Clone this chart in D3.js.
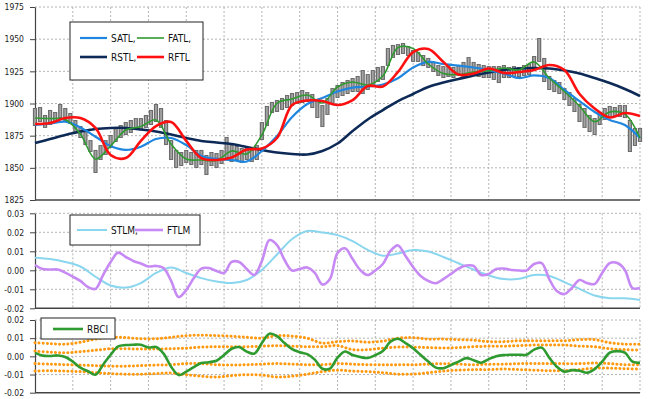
<!DOCTYPE html>
<html>
<head>
<meta charset="utf-8">
<script src="https://cdn.jsdelivr.net/npm/d3@7"></script>
<style>
  body { margin: 0; background: #fff; }
  svg text { font-family: "DejaVu Sans Condensed", "DejaVu Sans", sans-serif; font-stretch: condensed; }
  .tick text { font-size: 8.5px; fill: #222; }
  .tick line { stroke: #444; }
  .domain { stroke: #444; stroke-width: 1.2; }
  .grid line { stroke: #b4b4b4; stroke-dasharray: 2,2; }
</style>
</head>
<body>
<div id="vis"></div>
<script>

// price bars (one per bar, 121 bars)
var barHigh = [1896.5,1897.3,1891.1,1895.0,1893.4,1899.6,1896.5,1892.6,1887.2,1882.5,
  1877.8,1871.6,1863.9,1867.7,1871.6,1875.5,1881.0,1883.3,1885.6,1887.2,
  1888.7,1888.7,1891.1,1895.0,1899.6,1896.5,1887.2,1871.6,1863.9,1862.3,
  1863.9,1862.3,1863.9,1863.9,1860.0,1862.3,1861.5,1863.9,1874.0,1867.7,
  1867.0,1865.4,1866.2,1863.9,1867.7,1885.6,1898.1,1901.2,1902.7,1904.3,
  1906.6,1908.2,1908.9,1910.5,1908.9,1907.4,1902.7,1898.8,1904.3,1912.0,
  1914.4,1916.7,1918.3,1919.8,1921.4,1926.0,1922.9,1926.0,1928.4,1929.1,
  1943.1,1945.5,1946.2,1947.0,1944.7,1941.6,1940.0,1937.7,1935.4,1932.3,
  1929.9,1929.1,1929.9,1928.4,1929.9,1932.3,1936.1,1932.3,1930.7,1929.9,
  1929.1,1929.1,1929.1,1929.9,1928.4,1929.1,1928.4,1929.9,1930.7,1936.9,
  1950.9,1935.4,1921.4,1918.3,1916.7,1912.0,1908.9,1904.3,1899.6,1896.5,
  1891.1,1888.7,1893.4,1896.5,1898.1,1897.3,1898.8,1898.8,1887.2,1881.0,
  1881.0];
var barLow = [1882.5,1885.6,1881.0,1883.3,1884.8,1888.7,1886.4,1884.1,1877.8,1873.2,
  1867.7,1862.3,1846.0,1856.1,1860.0,1865.4,1870.1,1873.2,1875.5,1877.1,
  1879.4,1879.4,1881.0,1883.3,1885.6,1881.0,1867.7,1856.1,1849.9,1851.4,
  1853.8,1852.2,1849.9,1852.2,1844.4,1851.4,1849.9,1853.0,1857.6,1854.5,
  1856.1,1853.8,1856.1,1854.5,1856.1,1871.6,1882.5,1892.6,1893.4,1895.0,
  1896.5,1898.1,1899.6,1900.4,1901.2,1896.5,1888.7,1881.7,1891.1,1899.6,
  1904.3,1905.8,1907.4,1908.9,1908.9,1907.4,1910.5,1913.6,1916.7,1918.3,
  1929.1,1935.4,1937.7,1938.5,1936.9,1932.3,1932.3,1929.1,1927.6,1924.5,
  1921.4,1919.8,1920.6,1919.8,1921.4,1920.6,1922.9,1921.4,1920.6,1919.8,
  1919.8,1918.3,1915.9,1919.8,1919.8,1920.6,1920.6,1921.4,1922.2,1927.6,
  1932.3,1916.7,1910.5,1908.9,1907.4,1902.7,1898.1,1893.4,1885.6,1881.0,
  1877.8,1875.5,1883.3,1887.2,1888.7,1889.5,1889.5,1888.7,1862.3,1867.0,
  1870.1];

// filters, one value every 3 bars (41 points)
var satl = [1883.3,1884.5,1885.9,1881.3,1874.2,1867.0,1863.9,1866.4,1872.4,1873.2,
  1867.7,1859.2,1856.9,1856.1,1854.9,1863.1,1874.7,1889.5,1899.6,1904.3,
  1909.3,1912.4,1913.2,1914.8,1919.6,1928.0,1932.3,1930.7,1929.5,1928.0,
  1926.0,1923.3,1919.8,1921.8,1919.8,1910.5,1901.9,1893.4,1887.2,1883.3,1873.2];
var fatl = [1888.7,1888.3,1887.6,1876.3,1856.9,1867.0,1879.4,1882.1,1887.2,1868.5,
  1856.9,1856.1,1855.7,1863.1,1860.8,1875.5,1900.2,1903.5,1906.6,1900.4,
  1912.8,1916.7,1914.4,1921.4,1943.5,1942.7,1930.7,1923.3,1922.5,1924.5,
  1925.3,1927.6,1926.0,1932.3,1919.8,1909.3,1898.1,1885.9,1893.4,1891.8,1873.2];
var rstl = [1869.3,1872.4,1875.5,1878.2,1880.2,1881.0,1881.0,1879.8,1878.2,1875.9,
  1873.2,1870.9,1869.7,1868.5,1866.2,1863.9,1861.9,1860.8,1860.4,1863.1,
  1868.9,1878.6,1887.6,1894.9,1901.9,1907.4,1912.8,1916.3,1919.0,1921.8,
  1924.1,1926.0,1927.2,1927.6,1927.2,1925.6,1923.3,1919.8,1915.9,1911.3,1905.8];
var rftl = [1884.1,1884.8,1888.7,1888.7,1881.0,1860.0,1857.6,1870.9,1882.5,1885.6,
  1870.9,1857.6,1856.1,1858.0,1864.2,1865.0,1873.2,1898.8,1902.3,1901.9,
  1898.8,1902.7,1913.6,1913.2,1924.5,1940.0,1942.4,1932.3,1922.5,1923.3,
  1927.2,1923.7,1924.5,1926.0,1929.9,1926.0,1907.4,1896.1,1889.1,1892.6,1890.3];

// momentum panel
var stlm = [0.0066,0.0059,0.0044,0.0020,-0.0034,-0.0080,-0.0091,-0.0067,-0.0014,0.0015,
  -0.0014,-0.0041,-0.0059,-0.0067,-0.0051,0.0002,0.0083,0.0165,0.0207,0.0199,
  0.0185,0.0154,0.0107,0.0077,0.0088,0.0107,0.0099,0.0070,0.0037,0.0004,
  -0.0027,-0.0046,-0.0045,-0.0025,-0.0030,-0.0062,-0.0098,-0.0133,-0.0147,-0.0147,-0.0156];
// one value every 1.5 bars (81 points)
var ftlm = [0.0028,0.0007,0.0004,0.0004,-0.0012,-0.0033,-0.0056,-0.0088,-0.0098,-0.0025,
  0.0044,0.0093,0.0070,0.0049,0.0036,0.0020,0.0023,0.0012,-0.0056,-0.0141,
  -0.0104,-0.0041,0.0009,0.0012,-0.0004,-0.0014,0.0044,0.0044,0.0007,-0.0025,
  0.0049,0.0159,0.0133,0.0054,-0.0001,0.0007,0.0015,-0.0014,-0.0075,-0.0046,
  0.0091,0.0116,0.0059,0.0002,-0.0025,-0.0001,0.0033,0.0102,0.0131,0.0075,
  0.0017,-0.0030,-0.0056,-0.0068,-0.0046,-0.0019,0.0009,0.0025,0.0023,-0.0025,
  -0.0019,0.0007,0.0009,0.0002,-0.0001,-0.0001,0.0033,0.0038,-0.0046,-0.0109,
  -0.0125,-0.0093,-0.0051,-0.0067,-0.0072,-0.0014,0.0038,0.0038,0.0002,-0.0093,
  -0.0093];

// RBCI panel
var rbci = [0.0019,0.0004,0.0002,0.0005,-0.0004,-0.0029,-0.0062,-0.0082,-0.0101,-0.0046,
  0.0009,0.0055,0.0062,0.0064,0.0064,0.0049,0.0051,0.0015,-0.0057,-0.0103,
  -0.0084,-0.0059,-0.0037,-0.0032,-0.0024,0.0007,0.0042,0.0051,0.0026,0.0015,
  0.0073,0.0125,0.0111,0.0073,0.0040,0.0023,0.0012,-0.0018,-0.0068,-0.0068,
  -0.0007,0.0027,0.0007,-0.0004,-0.0009,0.0007,0.0029,0.0081,0.0097,0.0073,
  0.0045,0.0007,-0.0029,-0.0062,-0.0065,-0.0048,-0.0029,-0.0010,-0.0021,-0.0035,
  -0.0015,0.0001,0.0007,0.0009,0.0009,0.0009,0.0037,0.0048,-0.0007,-0.0057,
  -0.0084,-0.0076,-0.0079,-0.0090,-0.0070,-0.0029,0.0020,0.0029,0.0020,-0.0029,
  -0.0036];
var bandUp2 = [0.0075,0.0070,0.0067,0.0078,0.0095,0.0105,0.0103,0.0097,0.0097,0.0105,
  0.0114,0.0116,0.0114,0.0111,0.0105,0.0100,0.0114,0.0111,0.0100,0.0073,
  0.0081,0.0084,0.0078,0.0084,0.0100,0.0103,0.0095,0.0095,0.0092,0.0089,
  0.0081,0.0081,0.0086,0.0086,0.0086,0.0086,0.0092,0.0092,0.0075,0.0067,0.0067];
var bandUp1 = [0.0029,0.0023,0.0020,0.0026,0.0034,0.0042,0.0042,0.0040,0.0040,0.0042,
  0.0045,0.0051,0.0053,0.0053,0.0053,0.0056,0.0059,0.0056,0.0053,0.0053,
  0.0059,0.0037,0.0037,0.0045,0.0051,0.0051,0.0048,0.0046,0.0048,0.0053,
  0.0056,0.0056,0.0059,0.0062,0.0062,0.0062,0.0056,0.0053,0.0042,0.0037,0.0034];
var bandDn1 = [-0.0040,-0.0043,-0.0046,-0.0048,-0.0051,-0.0054,-0.0054,-0.0051,-0.0048,-0.0046,
  -0.0040,-0.0040,-0.0046,-0.0048,-0.0046,-0.0043,-0.0040,-0.0043,-0.0046,-0.0046,
  -0.0040,-0.0043,-0.0046,-0.0046,-0.0046,-0.0046,-0.0043,-0.0040,-0.0043,-0.0046,
  -0.0043,-0.0043,-0.0040,-0.0040,-0.0040,-0.0040,-0.0040,-0.0037,-0.0040,-0.0046,-0.0046];
var bandDn2 = [-0.0081,-0.0079,-0.0081,-0.0084,-0.0090,-0.0095,-0.0098,-0.0098,-0.0095,-0.0092,
  -0.0101,-0.0109,-0.0114,-0.0106,-0.0101,-0.0103,-0.0114,-0.0109,-0.0098,-0.0084,
  -0.0076,-0.0081,-0.0084,-0.0090,-0.0098,-0.0098,-0.0090,-0.0081,-0.0076,-0.0073,
  -0.0073,-0.0070,-0.0073,-0.0076,-0.0079,-0.0079,-0.0073,-0.0065,-0.0065,-0.0068,-0.0070];

// axis ticks
var priceTicks = [1825, 1850, 1875, 1900, 1925, 1950, 1975];
var momTicks = [-0.02, -0.01, 0.00, 0.01, 0.02, 0.03];
var rbciTicks = [-0.02, -0.01, 0.00, 0.01, 0.02];

var width = 650, height = 399;
var left = 35, right = 640;

var barIdx = d3.range(barHigh.length);
var idx3 = d3.range(0, 121, 3);
var idx15 = d3.range(0, 121, 1.5);
var xGrid = d3.range(0, 121, 7.5);

// scales
var x = d3.scaleLinear().domain([0, 120]).range([left, right]);
var y0 = d3.scaleLinear().domain([1825, 1975]).range([200, 7]);
var y1 = d3.scaleLinear().domain([-0.02, 0.03]).range([308.3, 213.3]);
var y2 = d3.scaleLinear().domain([-0.02, 0.02]).range([392.7, 320]);

var svg = d3.select("#vis").append("svg")
    .attr("width", width)
    .attr("height", height);

var fmt2 = function(d) { return d.toFixed(2); };

function panel(y, ticks, fmt) {
  var top = y.range()[1], bot = y.range()[0];
  // grid
  svg.append("g").attr("class", "grid")
    .selectAll("line").data(ticks.slice(1)).enter().append("line")
      .attr("x1", left).attr("x2", right)
      .attr("y1", function(d) { return y(d); })
      .attr("y2", function(d) { return y(d); });
  svg.append("g").attr("class", "grid")
    .selectAll("line").data(xGrid.slice(1)).enter().append("line")
      .attr("x1", function(d) { return x(d); })
      .attr("x2", function(d) { return x(d); })
      .attr("y1", top).attr("y2", bot);
  // left axis
  svg.append("g")
      .attr("transform", "translate(" + left + ",0)")
      .call(d3.axisLeft(y).tickValues(ticks).tickSize(5).tickPadding(6).tickFormat(fmt).tickSizeOuter(0));
  // bottom line
  svg.append("line")
      .attr("x1", left).attr("x2", right)
      .attr("y1", bot).attr("y2", bot)
      .attr("stroke", "#444").attr("stroke-width", 1.5);
}

panel(y0, priceTicks, d3.format("d"));
panel(y1, momTicks, fmt2);
panel(y2, rbciTicks, fmt2);

// price bars
svg.append("g").selectAll("line").data(barIdx).enter().append("line")
    .attr("x1", function(i) { return x(i); })
    .attr("x2", function(i) { return x(i); })
    .attr("y1", function(i) { return y0(barHigh[i]); })
    .attr("y2", function(i) { return y0(barLow[i]); })
    .attr("stroke", "#6c6c6c").attr("stroke-width", 4.2);
svg.append("g").selectAll("line").data(barIdx).enter().append("line")
    .attr("x1", function(i) { return x(i); })
    .attr("x2", function(i) { return x(i); })
    .attr("y1", function(i) { return y0(barHigh[i]) + 1; })
    .attr("y2", function(i) { return y0(barLow[i]) - 1; })
    .attr("stroke", "#a4a4a4").attr("stroke-width", 1.8);

function drawLine(y, idx, vals, color, w, dash) {
  var line = d3.line()
      .x(function(d, i) { return x(idx[i]); })
      .y(function(d) { return y(d); })
      .curve(d3.curveCatmullRom);
  var p = svg.append("path")
      .datum(vals)
      .attr("fill", "none")
      .attr("stroke", color)
      .attr("stroke-width", w)
      .attr("stroke-linejoin", "round")
      .attr("d", line);
  if (dash) p.attr("stroke-dasharray", dash).attr("stroke-linecap", "round");
  return p;
}

drawLine(y0, idx3, rstl, "#0d2a57", 2.6);
drawLine(y0, idx3, satl, "#1f86e0", 2.2);
drawLine(y0, idx3, fatl, "#2f9a2f", 1.6);
drawLine(y0, idx3, rftl, "#ff1010", 2.6);

drawLine(y1, idx3, stlm, "#8ad6ee", 2);
drawLine(y1, idx15, ftlm, "#c78af4", 2.6);

[bandUp2, bandUp1, bandDn1, bandDn2].forEach(function(b) {
  drawLine(y2, idx3, b, "#ff9a10", 3, "0.1,4");
});
drawLine(y2, idx15, rbci, "#2f9a2f", 2.6);

// legends
function legend(bx, by, bw, bh, items) {
  svg.append("rect")
      .attr("x", bx).attr("y", by).attr("width", bw).attr("height", bh)
      .attr("fill", "#fff").attr("stroke", "#222").attr("stroke-width", 1);
  items.forEach(function(it) {
    svg.append("line")
        .attr("x1", it.x).attr("x2", it.x + it.len)
        .attr("y1", it.y).attr("y2", it.y)
        .attr("stroke", it.color).attr("stroke-width", it.w);
    svg.append("text")
        .attr("x", it.x + it.len + 4).attr("y", it.y + 4)
        .attr("font-size", "10px").attr("fill", "#111")
        .text(it.name);
  });
}

legend(70, 22, 133, 58, [
  {name: "SATL,", color: "#1f86e0", w: 2.2, x: 80, y: 38, len: 27},
  {name: "FATL,", color: "#2f9a2f", w: 1.6, x: 137, y: 38, len: 27},
  {name: "RSTL,", color: "#0d2a57", w: 2.6, x: 80, y: 57, len: 27},
  {name: "RFTL", color: "#ff1010", w: 2.6, x: 137, y: 57, len: 27}
]);
legend(70, 215, 130, 30, [
  {name: "STLM,", color: "#8ad6ee", w: 2, x: 77, y: 230, len: 30},
  {name: "FTLM", color: "#c78af4", w: 2.6, x: 135, y: 230, len: 28}
]);
legend(41, 318, 74, 21, [
  {name: "RBCI", color: "#2f9a2f", w: 2.6, x: 53, y: 329, len: 30}
]);

</script>
</body>
</html>
